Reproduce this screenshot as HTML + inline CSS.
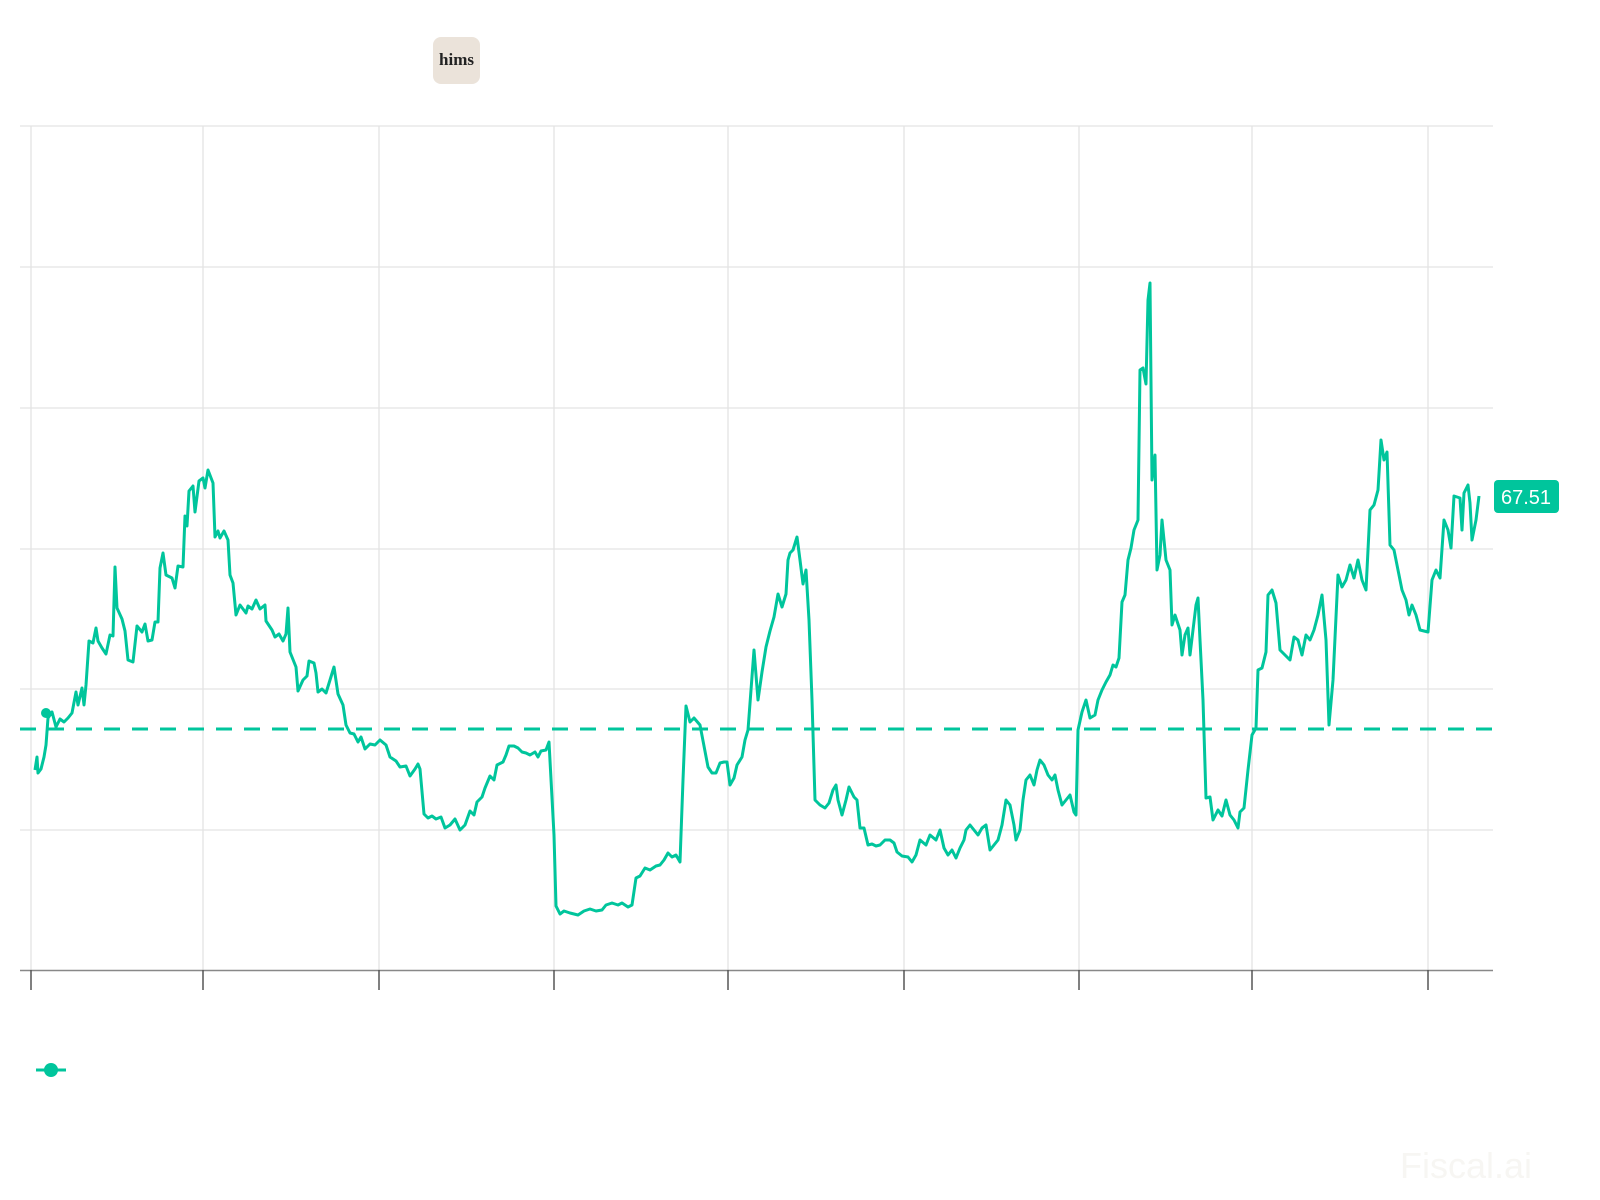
<!DOCTYPE html>
<html><head><meta charset="utf-8"><style>
html,body{margin:0;padding:0;background:#fff;}
</style></head><body>
<svg width="1600" height="1200" xmlns="http://www.w3.org/2000/svg" style="display:block">
<rect width="1600" height="1200" fill="#fff"/>
<rect x="433" y="37" width="47" height="47" rx="8" fill="#ebe3da"/>
<text x="456.5" y="65" text-anchor="middle" font-family="Liberation Serif, serif" font-weight="bold" font-size="17" fill="#222">hims</text>
<g stroke="#e3e3e3" stroke-width="1.3">
<line x1="20" y1="126" x2="1493" y2="126"/><line x1="20" y1="267" x2="1493" y2="267"/>
<line x1="20" y1="408" x2="1493" y2="408"/><line x1="20" y1="549" x2="1493" y2="549"/>
<line x1="20" y1="689" x2="1493" y2="689"/><line x1="20" y1="830" x2="1493" y2="830"/>
<line x1="31" y1="126" x2="31" y2="970"/><line x1="203" y1="126" x2="203" y2="970"/>
<line x1="379" y1="126" x2="379" y2="970"/><line x1="554" y1="126" x2="554" y2="970"/>
<line x1="728" y1="126" x2="728" y2="970"/><line x1="904" y1="126" x2="904" y2="970"/>
<line x1="1079" y1="126" x2="1079" y2="970"/><line x1="1252" y1="126" x2="1252" y2="970"/>
<line x1="1428" y1="126" x2="1428" y2="970"/>
</g>
<line x1="20" y1="970.5" x2="1493" y2="970.5" stroke="#888" stroke-width="1.5"/>
<g stroke="#555" stroke-width="1.5">
<line x1="31" y1="970" x2="31" y2="990"/><line x1="203" y1="970" x2="203" y2="990"/>
<line x1="379" y1="970" x2="379" y2="990"/><line x1="554" y1="970" x2="554" y2="990"/>
<line x1="728" y1="970" x2="728" y2="990"/><line x1="904" y1="970" x2="904" y2="990"/>
<line x1="1079" y1="970" x2="1079" y2="990"/><line x1="1252" y1="970" x2="1252" y2="990"/>
<line x1="1428" y1="970" x2="1428" y2="990"/>
</g>
<line x1="20" y1="729" x2="1493" y2="729" stroke="#00c59c" stroke-width="3" stroke-dasharray="16,12"/>
<polyline fill="none" stroke="#00c59c" stroke-width="3" stroke-linejoin="round" points="35,770 37,757 38,773 41,769 44,757 46,745 48,718 52,712 56,727 60,719 64,722 68,718 72,713 76,692 78,705 82,688 84,705 86,685 89,641 93,643 96,628 98,641 102,648 106,654 110,635 113,636 115,567 117,608 122,619 125,631 128,660 133,662 137,626 142,632 145,624 148,641 152,640 155,622 158,622 160,568 163,553 166,575 172,578 175,588 178,566 183,567 185,516 187,526 189,491 193,486 195,512 199,481 203,478 205,488 208,470 213,483 215,537 218,531 220,538 224,531 228,540 230,575 233,583 236,615 240,605 246,613 248,606 252,609 256,600 260,609 265,605 266,621 272,630 275,637 279,634 283,641 286,634 288,608 290,652 296,667 298,691 303,680 307,676 309,661 314,663 316,673 318,692 322,689 326,693 330,680 334,667 338,694 343,705 346,725 350,733 354,734 358,742 361,737 365,749 370,744 375,745 380,740 386,745 390,757 396,761 400,767 406,766 410,776 415,769 418,764 420,769 424,814 428,818 432,816 436,819 441,817 445,828 450,825 455,819 460,830 465,825 470,811 474,815 477,802 482,797 485,788 490,776 494,780 497,765 503,762 506,755 509,746 514,746 518,748 522,752 526,753 530,755 535,752 538,757 541,751 546,750 549,742 554,835 556,906 560,914 564,911 570,913 578,915 584,911 590,909 596,911 602,910 606,905 612,903 618,905 622,903 628,907 632,905 636,878 640,876 645,868 650,870 656,866 660,865 664,860 668,853 672,857 676,855 680,862 683,780 686,706 690,722 694,718 700,725 704,746 708,767 712,773 716,773 720,763 724,762 727,762 730,785 734,778 737,765 742,757 745,740 748,730 751,690 754,650 758,700 762,672 766,647 770,631 774,617 778,594 782,607 786,594 788,560 790,553 793,550 797,537 800,560 803,584 806,570 809,620 812,700 815,800 820,805 825,808 829,803 833,790 836,785 838,800 842,815 846,800 849,787 854,797 857,800 860,828 864,828 868,845 872,844 876,846 880,845 885,840 890,840 894,843 897,852 902,856 908,857 912,862 916,855 920,840 926,845 930,835 936,840 940,830 944,848 948,855 952,850 956,858 960,848 964,840 966,830 970,825 974,830 978,835 982,828 986,825 990,850 994,845 998,840 1002,825 1006,800 1010,805 1014,825 1016,840 1020,830 1023,800 1026,780 1030,775 1034,785 1037,770 1040,760 1044,765 1048,775 1052,780 1055,775 1058,790 1062,805 1066,800 1070,795 1074,812 1076,815 1078,730 1082,712 1086,700 1090,718 1095,715 1098,700 1102,690 1106,682 1110,675 1113,665 1116,667 1119,658 1122,602 1125,595 1128,560 1131,548 1134,530 1138,520 1140,370 1143,368 1146,384 1148,300 1150,283 1152,480 1155,455 1157,570 1160,555 1162,520 1166,560 1170,570 1172,625 1175,615 1180,630 1182,655 1185,635 1188,628 1190,655 1193,630 1196,605 1198,598 1200,640 1203,700 1206,798 1210,797 1213,820 1218,810 1222,816 1226,800 1230,815 1234,820 1238,828 1240,812 1244,808 1248,770 1252,735 1256,728 1258,670 1262,668 1266,652 1268,595 1272,590 1276,603 1280,650 1285,655 1290,660 1294,637 1298,640 1302,655 1306,635 1310,640 1314,630 1318,615 1322,595 1326,640 1329,725 1333,680 1338,575 1342,587 1346,580 1350,565 1354,578 1358,560 1362,580 1366,590 1370,510 1374,505 1378,490 1381,440 1384,460 1387,452 1390,545 1394,550 1398,570 1402,590 1406,600 1409,615 1412,605 1416,615 1420,630 1428,632 1432,580 1436,570 1440,578 1444,520 1448,530 1451,548 1454,496 1460,498 1462,530 1464,493 1468,485 1470,503 1472,540 1476,520 1479,496"/>
<circle cx="46" cy="713" r="5" fill="#00c59c"/>
<rect x="1494" y="480" width="65" height="33" rx="4" fill="#00c59c"/>
<text x="1526" y="504" text-anchor="middle" font-family="Liberation Sans, sans-serif" font-size="20" fill="#fff">67.51</text>
<line x1="36" y1="1070" x2="66" y2="1070" stroke="#00c59c" stroke-width="3"/>
<circle cx="51" cy="1070" r="7" fill="#00c59c"/>
<text x="1400" y="1178" font-family="Liberation Sans, sans-serif" font-size="36" fill="#f7f6f3">Fiscal.ai</text>
</svg>
</body></html>
